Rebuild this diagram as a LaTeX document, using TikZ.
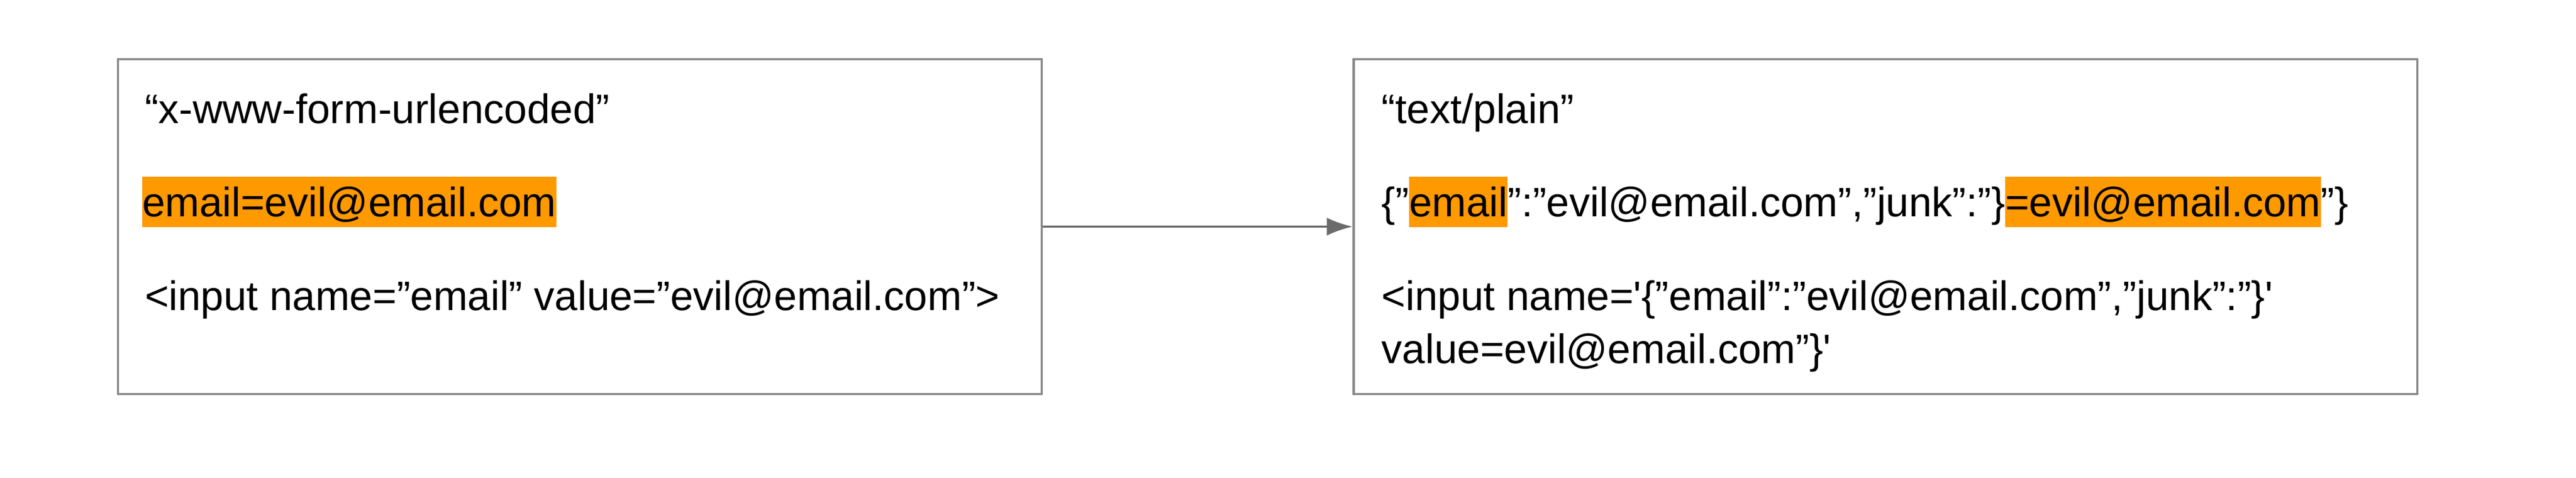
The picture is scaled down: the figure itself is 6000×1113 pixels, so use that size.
\documentclass[tikz,border=0pt]{standalone}
\usepackage{fontspec}
\setmainfont{Liberation Sans}
\usetikzlibrary{arrows.meta}
\definecolor{hl}{HTML}{FF9900}
\definecolor{bord}{HTML}{888888}
\definecolor{arr}{HTML}{6B6B6B}
\newcommand\hlx[1]{{\setlength\fboxsep{0pt}\colorbox{hl}{\rule[-24pt]{0pt}{117pt}#1}}}
\tikzset{
  box/.style={draw=bord,line width=5pt,fill=white,inner sep=0pt},
  txt/.style={anchor=base west,inner sep=0pt,font=\fontsize{96}{123}\selectfont},
  conn/.style={draw=arr,line width=5pt,-{Latex[length=60pt,width=42pt]}}
}
\begin{document}
\begin{tikzpicture}[x=1pt,y=-1pt]
\useasboundingbox (0,0) rectangle (6000,1113);
\node[box,minimum width=2151pt,minimum height=780pt] (L) at (1350.5,528) {};
\node[box,minimum width=2477pt,minimum height=780pt] (R) at (4391.5,528) {};
\draw[conn] (L.east) -- (R.west);
\node[txt] (l1) at (337,287) {“x-www-form-urlencoded”};
\node[txt] (l2) at (331,505) {\hlx{email=evil@email.com}};
\node[txt] (l3) at (337,723) {<input name="email" value="evil@email.com">};
\node[txt] (r1) at (3218,287) {“text/plain”};
\node[txt] (r2) at (3218,505) {\{"\hlx{email}":"evil@email.com","junk":"\}\hlx{=evil@email.com}"\}};
\node[txt] (r3) at (3218,723) {<input name=\textquotesingle\{"email":"evil@email.com","junk":"\}\textquotesingle};
\node[txt] (r4) at (3218,846) {value=evil@email.com"\}\textquotesingle};
\end{tikzpicture}
\end{document}
